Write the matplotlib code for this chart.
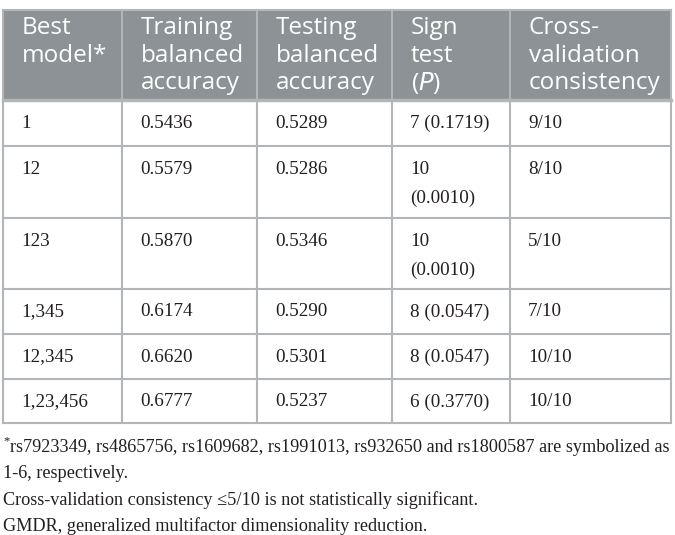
import matplotlib.pyplot as plt
from matplotlib.patches import Rectangle

# Table content
headers = [
    ["Best", "model*"],
    ["Training", "balanced", "accuracy"],
    ["Testing", "balanced", "accuracy"],
    ["Sign", "test", "(P)"],
    ["Cross-", "validation", "consistency"],
]
best_model = ["1", "12", "123", "1,345", "12,345", "1,23,456"]
train_acc = ["0.5436", "0.5579", "0.5870", "0.6174", "0.6620", "0.6777"]
test_acc = ["0.5289", "0.5286", "0.5346", "0.5290", "0.5301", "0.5237"]
sign_test = ["7 (0.1719)", "10\n(0.0010)", "10\n(0.0010)", "8 (0.0547)", "8 (0.0547)", "6 (0.3770)"]
cv_consistency = ["9/10", "8/10", "5/10", "7/10", "10/10", "10/10"]
footnotes = [
    "rs7923349, rs4865756, rs1609682, rs1991013, rs932650 and rs1800587 are symbolized as",
    "1-6, respectively.",
    "Cross-validation consistency \u22645/10 is not statistically significant.",
    "GMDR, generalized multifactor dimensionality reduction.",
]

# Layout in pixels
col_edges = [3, 122, 257, 392, 510, 671]
row_edges = [10, 100, 146, 218, 289, 334, 379, 423]
header_bg = "#8c9295"
line_col = "#b3b6b8"
serif = "Liberation Serif"
sans = "Open Sans"

fig = plt.figure(figsize=(6.75, 5.35), dpi=100)
ax = fig.add_axes([0, 0, 1, 1])
ax.set_xlim(0, 675)
ax.set_ylim(535, 0)
ax.axis("off")

# header background
ax.add_patch(Rectangle((col_edges[0], row_edges[0]), col_edges[-1] - col_edges[0],
                       row_edges[1] - row_edges[0], facecolor=header_bg, edgecolor="none"))

# grid lines
for x in col_edges:
    ax.plot([x, x], [row_edges[0], row_edges[-1]], color=line_col, lw=1.5)
for i, y in enumerate(row_edges):
    ax.plot([col_edges[0], col_edges[-1]], [y, y], color=line_col, lw=1.5 if i != 1 else 2.5)

# header text
for c, lines in enumerate(headers):
    x = col_edges[c] + 19
    for k, t in enumerate(lines):
        y = row_edges[0] + 18 + k * 27.5
        if t == "(P)":
            t = "($\\it{P}$)"
        ax.text(x, y, t, color="white", fontsize=17.5, family=sans, va="center", ha="left")

# body text
columns = [best_model, train_acc, test_acc, sign_test, cv_consistency]
for c, col in enumerate(columns):
    x = col_edges[c] + 18
    for r, val in enumerate(col):
        y = row_edges[r + 1] + 23
        for k, t in enumerate(val.split("\n")):
            ax.text(x, y + k * 29, t, color="#231f20", fontsize=13.8, family=serif,
                    va="center", ha="left")

# footnotes
ax.text(3, 441, "*", fontsize=9, family=serif, color="#231f20", va="center", ha="left")
for k, t in enumerate(footnotes):
    x0 = 10 if k == 0 else 3
    ax.text(x0, 447 + k * 26.3, t, fontsize=13.15, family=serif, color="#231f20",
            va="center", ha="left")

fig.savefig("out.png", dpi=100)
